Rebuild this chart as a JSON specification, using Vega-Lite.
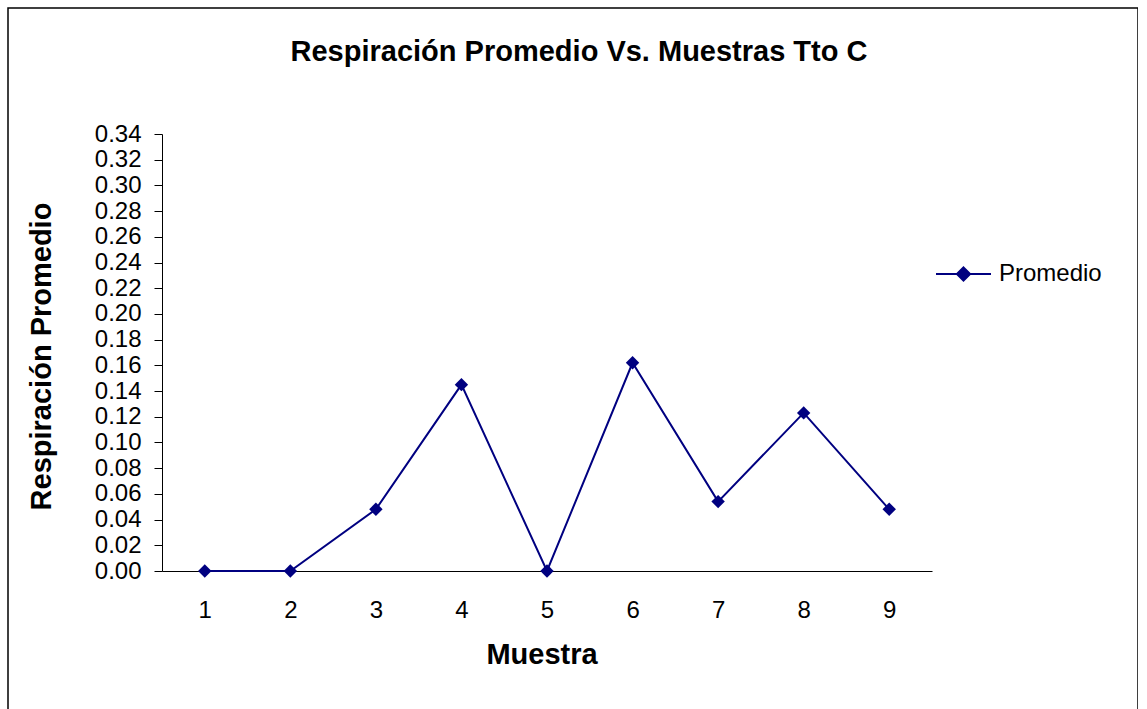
{
  "$schema": "https://vega.github.io/schema/vega-lite/v6.json",
  "width": 1130,
  "height": 710,
  "autosize": {"type": "none"},
  "padding": {"left": 8, "top": 8, "right": 0, "bottom": 0},
  "background": "white",
  "title": {
    "text": "Respiración Promedio Vs. Muestras Tto C",
    "anchor": "middle",
    "frame": "group",
    "offset": 0,
    "baseline": "alphabetic",
    "dy": 82,
    "dx": 6,
    "fontSize": 29,
    "font": "Liberation Sans",
    "fontWeight": "bold",
    "color": "#000"
  },
  "data": {
    "values": [
      {"Muestra": "1", "Promedio": 0.0, "Serie": "Promedio"},
      {"Muestra": "2", "Promedio": 0.0, "Serie": "Promedio"},
      {"Muestra": "3", "Promedio": 0.048, "Serie": "Promedio"},
      {"Muestra": "4", "Promedio": 0.145, "Serie": "Promedio"},
      {"Muestra": "5", "Promedio": 0.0, "Serie": "Promedio"},
      {"Muestra": "6", "Promedio": 0.162, "Serie": "Promedio"},
      {"Muestra": "7", "Promedio": 0.054, "Serie": "Promedio"},
      {"Muestra": "8", "Promedio": 0.123, "Serie": "Promedio"},
      {"Muestra": "9", "Promedio": 0.048, "Serie": "Promedio"}
    ]
  },
  "encoding": {
    "x": {
      "field": "Muestra",
      "type": "ordinal",
      "scale": {"type": "point", "range": [154, 924], "padding": 0.5},
      "axis": {
        "title": "Muestra",
        "labelAngle": 0,
        "ticks": false,
        "tickSize": 0,
        "labelPadding": 27,
        "labelFontSize": 24,
        "offset": -147,
        "titleFontSize": 29,
        "titleFontWeight": "bold",
        "titleBaseline": "alphabetic",
        "titleAlign": "center",
        "titleX": 533.5,
        "titleY": 92,
        "grid": false
      }
    },
    "y": {
      "field": "Promedio",
      "type": "quantitative",
      "scale": {"domain": [0, 0.34], "range": [563, 126], "nice": false, "zero": false},
      "axis": {
        "title": "Respiración Promedio",
        "values": [0, 0.02, 0.04, 0.06, 0.08, 0.1, 0.12, 0.14, 0.16, 0.18, 0.2, 0.22, 0.24, 0.26, 0.28, 0.3, 0.32, 0.34],
        "format": ".2f",
        "offset": -154,
        "tickSize": 8,
        "labelPadding": 13,
        "labelFontSize": 24,
        "grid": false,
        "titleFontSize": 29,
        "titleFontWeight": "bold",
        "titleAngle": 270,
        "titleBaseline": "alphabetic",
        "titleAlign": "center",
        "titleX": -112,
        "titleY": 348
      }
    },
    "color": {
      "field": "Serie",
      "type": "nominal",
      "scale": {"range": ["#000080"]},
      "legend": {
        "orient": "none",
        "legendX": 927,
        "legendY": 237.5,
        "title": null,
        "padding": 0,
        "labelFontSize": 24,
        "labelFont": "Liberation Sans",
        "labelColor": "#000",
        "labelOffset": 7,
        "symbolType": "M-1,0L1,0M0,-0.24L0.24,0L0,0.24L-0.24,0Z",
        "symbolSize": 3025,
        "symbolStrokeWidth": 2,
        "symbolStrokeColor": "#000080",
        "symbolFillColor": "#000080",
        "symbolOpacity": 1
      }
    }
  },
  "layer": [
    {"mark": {"type": "line", "strokeWidth": 2}},
    {"mark": {"type": "point", "shape": "diamond", "filled": true, "size": 180, "opacity": 1}}
  ],
  "config": {
    "view": {"stroke": "#000", "strokeWidth": 1.5},
    "axis": {
      "domainColor": "#000",
      "tickColor": "#000",
      "labelFont": "Liberation Sans",
      "titleFont": "Liberation Sans",
      "labelColor": "#000",
      "titleColor": "#000"
    }
  }
}
